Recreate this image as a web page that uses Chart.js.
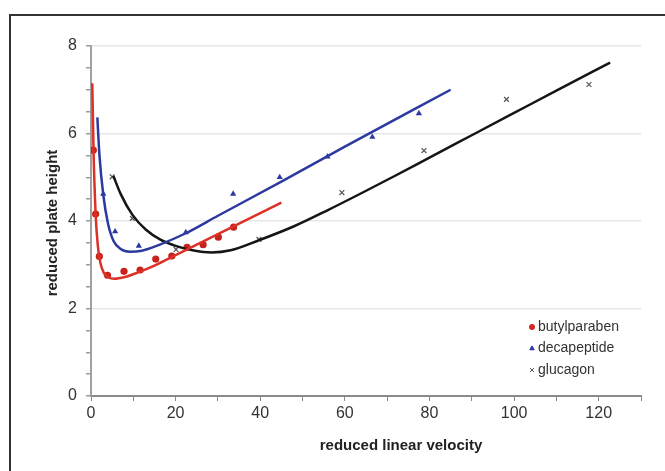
<!DOCTYPE html>
<html>
<head>
<meta charset="utf-8">
<script src="https://cdn.jsdelivr.net/npm/chart.js@4"></script>
<style>
  body { margin: 0; background: #fff; }
  #wrap { position: relative; width: 665px; height: 471px; overflow: hidden; background: #fff; }
  #frame { position: absolute; left: 9px; top: 14px; width: 700px; height: 520px; border: 2px solid #333; box-sizing: border-box; }
  #chart { position: absolute; left: 0; top: 0; }
</style>
</head>
<body>
<div id="wrap">
  <div id="frame"></div>
  <canvas id="chart" width="665" height="471"></canvas>
</div>
<script>
// measured points
const butylX = [0.55, 1.1, 1.97, 3.9, 7.8, 11.6, 15.3, 19.1, 22.7, 26.5, 30.1, 33.7];
const butylY = [5.62, 4.16, 3.19, 2.76, 2.85, 2.88, 3.13, 3.2, 3.4, 3.46, 3.63, 3.86];
const decaX = [2.9, 5.7, 11.3, 22.4, 33.6, 44.6, 55.9, 66.5, 77.5];
const decaY = [4.62, 3.76, 3.43, 3.74, 4.62, 5.0, 5.47, 5.92, 6.46];
const glucX = [5.0, 9.8, 20.1, 39.7, 59.3, 78.7, 98.2, 117.7];
const glucY = [5.01, 4.06, 3.35, 3.58, 4.65, 5.61, 6.78, 7.12];

// fitted curves
const butylFitX = [0.3, 0.6, 1.1, 1.6, 2.2, 3, 4, 5.5, 8, 11, 15, 20, 25, 35, 45];
const butylFitY = [7.15, 5.6, 4.15, 3.45, 3.05, 2.82, 2.72, 2.68, 2.72, 2.82, 2.98, 3.22, 3.46, 3.94, 4.42];
const decaFitX = [1.5, 2, 2.9, 4, 5.3, 7, 9.2, 12, 16, 22.4, 30, 45, 60, 85];
const decaFitY = [6.37, 5.5, 4.6, 3.95, 3.55, 3.36, 3.3, 3.32, 3.45, 3.72, 4.12, 4.9, 5.7, 7.0];
const glucFitX = [5.3, 7, 9.8, 13, 16.3, 20, 24, 28.5, 33, 39.7, 48, 56, 64, 72, 80, 90, 100, 110, 122.7];
const glucFitY = [5.03, 4.62, 4.14, 3.8, 3.58, 3.43, 3.33, 3.28, 3.33, 3.56, 3.88, 4.25, 4.64, 5.04, 5.45, 5.96, 6.47, 6.98, 7.62];

const seriesNames = ["butylparaben", "decapeptide", "glucagon"];

const toXY = (xs, ys) => xs.map((x, i) => ({ x: x, y: ys[i] }));

const RED = "#d42a22";
const BLUE = "#2b3a9e";
const BLACK = "#151515";
const GREY_X = "#555555";

const fitStyle = (color) => ({
  showLine: true,
  pointRadius: 0,
  borderColor: color,
  borderWidth: 2.5,
  fill: false,
  cubicInterpolationMode: "monotone"
});

// axis titles and legend drawn in place
const extras = {
  id: "extras",
  afterDraw(chart) {
    const ctx = chart.ctx;
    ctx.save();
    ctx.fillStyle = "#222";
    ctx.font = 'bold 15px "Liberation Sans", Arial, sans-serif';
    ctx.textAlign = "center";
    ctx.textBaseline = "middle";
    ctx.fillText("reduced linear velocity", 401, 446);
    ctx.translate(53, 223);
    ctx.rotate(-Math.PI / 2);
    ctx.fillText("reduced plate height", 0, 0);
    ctx.restore();

    // legend
    ctx.save();
    ctx.font = '14px "Liberation Sans", Arial, sans-serif';
    ctx.textAlign = "left";
    ctx.textBaseline = "middle";
    const styles = [
      { style: "circle", color: RED, r: 2.6 },
      { style: "triangle", color: BLUE, r: 2.6 },
      { style: "crossRot", color: GREY_X, r: 2.8 }
    ];
    const rows = [327, 348.5, 370];
    seriesNames.forEach((name, i) => {
      const s = styles[i];
      ctx.fillStyle = s.color;
      ctx.strokeStyle = s.color;
      ctx.lineWidth = 1;
      Chart.helpers.drawPoint(ctx, { pointStyle: s.style, radius: s.r, borderWidth: 1 }, 532, rows[i]);
      ctx.fillStyle = "#333";
      ctx.fillText(name, 538, rows[i]);
    });
    ctx.restore();
  }
};

new Chart(document.getElementById("chart"), {
  type: "scatter",
  data: {
    datasets: [
      Object.assign({ label: "butylparaben fit", data: toXY(butylFitX, butylFitY) }, fitStyle("#db3127")),
      Object.assign({ label: "decapeptide fit", data: toXY(decaFitX, decaFitY) }, fitStyle(BLUE)),
      Object.assign({ label: "glucagon fit", data: toXY(glucFitX, glucFitY) }, fitStyle(BLACK)),
      {
        label: seriesNames[0],
        data: toXY(butylX, butylY),
        pointStyle: "circle",
        pointRadius: 3.6,
        backgroundColor: "#c8221c",
        borderColor: "#c8221c",
        borderWidth: 0
      },
      {
        label: seriesNames[1],
        data: toXY(decaX, decaY),
        pointStyle: "triangle",
        pointRadius: 3.6,
        backgroundColor: BLUE,
        borderColor: BLUE,
        borderWidth: 0
      },
      {
        label: seriesNames[2],
        data: toXY(glucX, glucY),
        pointStyle: "crossRot",
        pointRadius: 3.4,
        borderColor: GREY_X,
        borderWidth: 1.2
      }
    ]
  },
  options: {
    responsive: false,
    animation: false,
    layout: { padding: { top: 46, right: 24, left: 0, bottom: 0 } },
    plugins: {
      legend: { display: false },
      tooltip: { enabled: false }
    },
    scales: {
      x: {
        type: "linear",
        position: "bottom",
        min: 0,
        max: 130,
        afterFit: (s) => { s.height = 75; },
        border: { color: "#8a8a8a", width: 2 },
        grid: { drawOnChartArea: false, drawTicks: true, tickLength: 5, tickColor: "#8a8a8a" },
        ticks: {
          stepSize: 10,
          autoSkip: false,
          maxRotation: 0,
          padding: 3,
          color: "#333",
          font: { family: '"Liberation Sans", Arial, sans-serif', size: 16 },
          callback: (v) => (v % 20 === 0 ? v : "")
        }
      },
      y: {
        type: "linear",
        min: 0,
        max: 8,
        afterFit: (s) => { s.width = 91; },
        border: { color: "#a0a0a0", width: 2 },
        grid: {
          drawTicks: true,
          tickLength: 5,
          tickColor: "#9a9a9a",
          color: (c) => (c.tick && c.tick.value % 2 === 0 && c.tick.value > 0 ? "#e6e6e6" : "rgba(0,0,0,0)"),
          lineWidth: 1.5
        },
        ticks: {
          stepSize: 0.5,
          autoSkip: false,
          padding: 9,
          color: "#333",
          font: { family: '"Liberation Sans", Arial, sans-serif', size: 16 },
          callback: (v) => (v % 2 === 0 ? v : "")
        }
      }
    }
  },
  plugins: [extras]
});
</script>
</body>
</html>
